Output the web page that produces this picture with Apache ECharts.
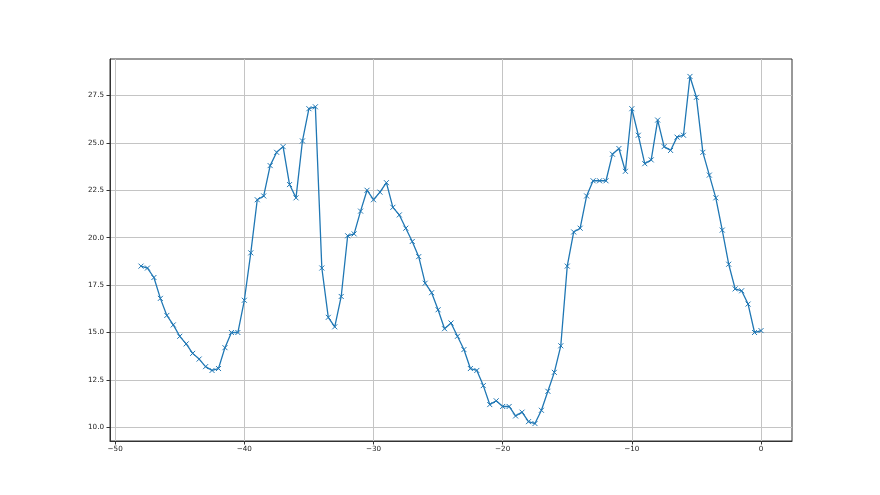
<!DOCTYPE html>
<html>
<head>
<meta charset="utf-8">
<script src="https://cdn.jsdelivr.net/npm/echarts@6/dist/echarts.min.js"></script>
<style>
  html, body { margin: 0; padding: 0; background: #fff; }
  #chart { width: 880px; height: 495px; }
</style>
</head>
<body>
<div id="chart"></div>
<script>
  // x positions of the samples
  var xValues = [
    -48, -47.5, -47, -46.5, -46, -45.5, -45, -44.5, -44, -43.5,
    -43, -42.5, -42, -41.5, -41, -40.5, -40, -39.5, -39, -38.5,
    -38, -37.5, -37, -36.5, -36, -35.5, -35, -34.5, -34, -33.5,
    -33, -32.5, -32, -31.5, -31, -30.5, -30, -29.5, -29, -28.5,
    -28, -27.5, -27, -26.5, -26, -25.5, -25, -24.5, -24, -23.5,
    -23, -22.5, -22, -21.5, -21, -20.5, -20, -19.5, -19, -18.5,
    -18, -17.5, -17, -16.5, -16, -15.5, -15, -14.5, -14, -13.5,
    -13, -12.5, -12, -11.5, -11, -10.5, -10, -9.5, -9, -8.5,
    -8, -7.5, -7, -6.5, -6, -5.5, -5, -4.5, -4, -3.5,
    -3, -2.5, -2, -1.5, -1, -0.5, 0
  ];
  // y values
  var yValues = [
    18.5, 18.4, 17.9, 16.8, 15.9, 15.4, 14.8, 14.4, 13.9, 13.6,
    13.2, 13.0, 13.1, 14.2, 15.0, 15.0, 16.7, 19.2, 22.0, 22.2,
    23.8, 24.5, 24.8, 22.8, 22.1, 25.1, 26.8, 26.9, 18.4, 15.8,
    15.3, 16.9, 20.1, 20.2, 21.4, 22.5, 22.0, 22.4, 22.9, 21.6,
    21.2, 20.5, 19.8, 19.0, 17.6, 17.1, 16.2, 15.2, 15.5, 14.8,
    14.1, 13.1, 13.0, 12.2, 11.2, 11.4, 11.1, 11.1, 10.6, 10.8,
    10.3, 10.2, 10.9, 11.9, 12.9, 14.3, 18.5, 20.3, 20.5, 22.2,
    23.0, 23.0, 23.0, 24.4, 24.7, 23.5, 26.8, 25.4, 23.9, 24.1,
    26.2, 24.8, 24.6, 25.3, 25.4, 28.5, 27.4, 24.5, 23.3, 22.1,
    20.4, 18.6, 17.3, 17.2, 16.5, 15.0, 15.1
  ];
  var xTicks = [-50, -40, -30, -20, -10, 0];
  var yTicks = [10.0, 12.5, 15.0, 17.5, 20.0, 22.5, 25.0, 27.5];

  var points = [];
  for (var i = 0; i < xValues.length; i++) {
    points.push([xValues[i], yValues[i]]);
  }

  var labelFont = { fontFamily: 'DejaVu Sans', fontSize: 7.2, color: '#222' };

  var chart = echarts.init(document.getElementById('chart'));
  chart.setOption({
    backgroundColor: '#fff',
    animation: false,
    grid: {
      left: 110, top: 59, width: 682, height: 382,
      show: true, borderColor: '#333', borderWidth: 1
    },
    xAxis: {
      type: 'value',
      min: -50.4,
      max: 2.4,
      axisLine: { show: true, onZero: false, lineStyle: { color: '#333', width: 1 } },
      axisTick: { show: true, inside: false, length: 3.5, customValues: xTicks, lineStyle: { color: '#333' } },
      axisLabel: Object.assign({
        customValues: xTicks,
        margin: 5,
        formatter: function (v) { return String(v).replace('-', '\u2212'); }
      }, labelFont),
      splitLine: { show: true, lineStyle: { color: '#c4c4c4', width: 1 } }
    },
    yAxis: {
      type: 'value',
      min: 9.28,
      max: 29.42,
      axisLine: { show: true, onZero: false, lineStyle: { color: '#333', width: 1 } },
      axisTick: { show: true, inside: false, length: 3.5, customValues: yTicks, lineStyle: { color: '#333' } },
      axisLabel: Object.assign({
        customValues: yTicks,
        margin: 6,
        formatter: function (v) { return v.toFixed(1); }
      }, labelFont),
      splitLine: { show: true, lineStyle: { color: '#c4c4c4', width: 1 } }
    },
    series: [{
      type: 'line',
      data: points,
      showSymbol: true,
      showAllSymbol: true,
      symbol: 'path://M0,0L10,10M10,0L0,10',
      symbolSize: 5,
      itemStyle: { color: '#1f77b4', borderColor: '#1f77b4', borderWidth: 1 },
      lineStyle: { color: '#1f77b4', width: 1.3 }
    }]
  });
</script>
</body>
</html>
